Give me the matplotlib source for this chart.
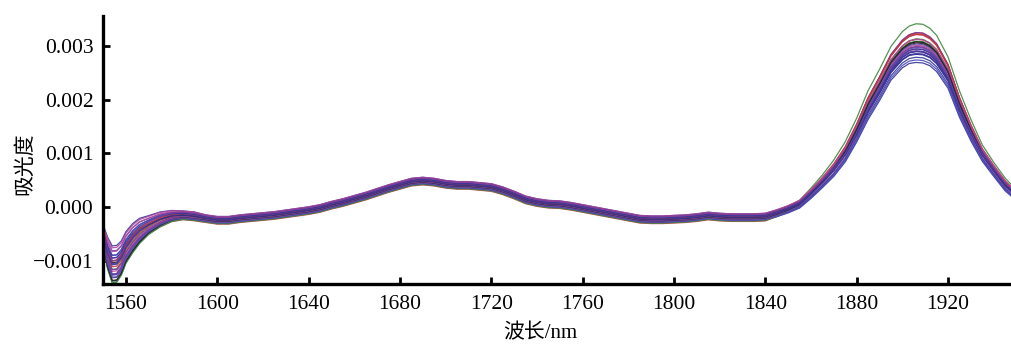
"""Overlaid NIR absorbance spectra (1550-1948 nm)."""

import matplotlib
matplotlib.use("Agg")
import matplotlib.pyplot as plt
import numpy as np

# wavelength grid (nm) and the mean spectrum
wavelength = [1550, 1552, 1554, 1556, 1558, 1560, 1563, 1566, 1570, 1575,
              1580, 1585, 1590, 1595, 1600, 1605, 1610, 1615, 1620, 1625,
              1630, 1635, 1640, 1645, 1650, 1655, 1660, 1665, 1670, 1675,
              1680, 1685, 1690, 1695, 1700, 1705, 1710, 1715, 1720, 1725,
              1730, 1735, 1740, 1745, 1750, 1755, 1760, 1765, 1770, 1775,
              1780, 1785, 1790, 1795, 1800, 1805, 1810, 1815, 1820, 1825,
              1830, 1835, 1840, 1845, 1850, 1855, 1860, 1865, 1870, 1875,
              1880, 1885, 1890, 1895, 1900, 1903, 1906, 1909, 1912, 1915,
              1920, 1925, 1930, 1935, 1940, 1945, 1948]
mean_abs = [-0.00055, -0.00090, -0.00112, -0.00111, -0.00100, -0.00080, -0.00062, -0.00048, -0.00036, -0.00025,
            -0.00018, -0.00016, -0.00018, -0.00022, -0.00025, -0.00025, -0.00022, -0.00020, -0.00018, -0.00016,
            -0.00013, -0.00010, -0.00007, -0.00003, 0.00003, 0.00008, 0.00014, 0.00020, 0.00027, 0.00034,
            0.00040, 0.00046, 0.00048, 0.00046, 0.00042, 0.00040, 0.00040, 0.00038, 0.00036, 0.00030,
            0.00022, 0.00013, 0.00008, 0.00005, 0.00004, 0.00001, -0.00003, -0.00007, -0.00011, -0.00015,
            -0.00019, -0.00023, -0.00024, -0.00024, -0.00023, -0.00022, -0.00020, -0.00017, -0.00019, -0.00020,
            -0.00020, -0.00020, -0.00019, -0.00012, -0.00004, 0.00006, 0.00026, 0.00048, 0.00072, 0.00102,
            0.00142, 0.00188, 0.00225, 0.00265, 0.00290, 0.00299, 0.00302, 0.00301, 0.00295, 0.00283,
            0.00248, 0.00190, 0.00142, 0.00100, 0.00070, 0.00042, 0.00030]
# how far the samples spread around the mean: water-band peak and the dip at 1554 nm
peak_spread = [0] * 63 + [0.00001, 0.00002, 0.00003, 0.00005, 0.00007, 0.00010, 0.00013,
                          0.00016, 0.00020, 0.00022, 0.00024, 0.00026, 0.00027, 0.00028, 0.00028, 0.00027, 0.00026,
                          0.00022, 0.00018, 0.00014, 0.00010, 0.00008, 0.00007, 0.00006]
dip_spread = [0.00012, 0.00020, 0.00024, 0.00024, 0.00022, 0.00020, 0.00018, 0.00015, 0.00010, 0.00007,
              0.00004, 0.00002, 0.00002] + [0.00001] * 74

# per-sample weights (30 spectra)
peak_w = [1.30, -0.45, 0.35, -0.90, 0.80, 0.10, -0.60, 1.05, -0.20, 0.50,
          -0.80, 0.00, 0.70, -0.30, -1.00, 0.20, 0.90, -0.55, 0.45, -0.10,
          -0.70, 0.60, -0.25, 0.15, -0.85, -0.40, 0.30, -0.65, -0.05, -0.50]
dip_w = [-0.30, 0.90, -0.60, 1.40, -0.20, 0.50, 1.10, -0.80, 0.20, -1.10,
         0.70, -0.40, 0.00, 1.25, -0.90, 0.35, -0.50, 0.80, -1.00, 0.10,
         -0.70, 0.40, -0.15, 1.00, -0.45, 0.60, -0.95, 0.25, -0.65, 0.15]
offset = [0.00003, -0.00005, 0.00001, 0.00006, -0.00003, 0.00000, 0.00004, -0.00006, 0.00002, -0.00002,
          0.00005, -0.00003, 0.00001, 0.00006, -0.00004, 0.00000, -0.00002, 0.00003, -0.00005, 0.00004,
          -0.00003, 0.00002, -0.00001, 0.00005, -0.00004, 0.00003, -0.00002, 0.00006, -0.00003, 0.00001]
line_colours = ["#3c8a3c", "#7a3d96", "#c93838", "#35359a", "#b8489c", "#222222",
                "#4b4bb8", "#c93838", "#6a4aa8", "#3c8a3c", "#35359a", "#7a3d96",
                "#c93838", "#b8489c", "#35359a", "#222222", "#7a3d96", "#4b4bb8",
                "#3c8a3c", "#6a4aa8", "#35359a", "#c93838", "#7a3d96", "#b8489c",
                "#4b4bb8", "#35359a", "#222222", "#7a3d96", "#6a4aa8", "#35359a"]

XTICKS = [1560, 1600, 1640, 1680, 1720, 1760, 1800, 1840, 1880, 1920]
YTICKS = [-0.001, 0.0, 0.001, 0.002, 0.003]
YTICKLABELS = ["\u22120.001", "0.000", "0.001", "0.002", "0.003"]

plt.rcParams["font.family"] = ["Liberation Serif", "Noto Sans CJK SC"]

fig = plt.figure(figsize=(10.12, 3.46), dpi=100)
ax = fig.add_axes([0.1018, 0.179, 0.8982, 0.775])

wl = np.array(wavelength)
base = np.array(mean_abs)
pk = np.array(peak_spread)
dp = np.array(dip_spread)
for i, c in enumerate(line_colours):
    y = base + peak_w[i] * pk + dip_w[i] * dp + offset[i]
    ax.plot(wl, y, color=c, lw=0.9, alpha=0.9)

ax.set_xlim(1550, 1948)
ax.set_ylim(-0.001434, 0.003557)
ax.set_xticks(XTICKS)
ax.set_xticklabels([str(t) for t in XTICKS])
ax.set_yticks(YTICKS)
ax.set_yticklabels(YTICKLABELS)

for side in ("top", "right"):
    ax.spines[side].set_visible(False)
for side in ("left", "bottom"):
    ax.spines[side].set_linewidth(2.4)
ax.tick_params(direction="in", length=5, width=2.0, labelsize=15.5)
ax.tick_params(axis="x", pad=8)
ax.tick_params(axis="y", pad=7)

ax.set_xlabel("波长/nm", fontsize=15)
ax.set_ylabel("吸光度", fontsize=15)
ax.xaxis.set_label_coords(0.481, -0.15)
ax.yaxis.set_label_coords(-0.075, 0.448)

fig.savefig("out.png", dpi=100)
